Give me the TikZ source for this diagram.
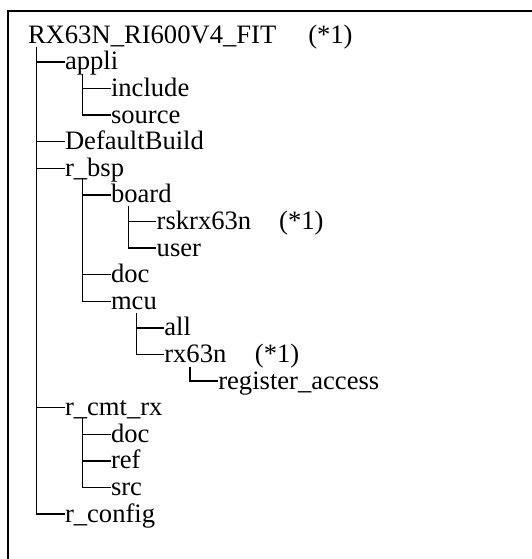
\documentclass[tikz,border=0pt]{standalone}
\usepackage{fontspec}
\setmainfont{Liberation Serif}
\begin{document}
\begin{tikzpicture}[x=1pt,y=-1pt,
  item/.style={anchor=base west,inner sep=0pt,outer sep=0pt,font=\fontsize{26.6}{26.6}\selectfont},
  tree/.style={draw=black,line width=1.3pt},
  frame/.style={draw=black,line width=1.6pt}]
\useasboundingbox (0,0) rectangle (532,559);
\draw[frame] (532,11) -- (8,11) -- (8,559);
% nodes
\node[item] (root) at (28,43.3) {RX63N\_RI600V4\_FIT\hspace{32pt}(*1)};
\node[item] (appli) at (65,69.9) {appli};
\node[item] (include) at (111,96.5) {include};
\node[item] (source) at (111,123.1) {source};
\node[item] (defb) at (65,149.7) {DefaultBuild};
\node[item] (rbsp) at (65,176.3) {r\_bsp};
\node[item] (board) at (111,202.9) {board};
\node[item] (rsk) at (156.7,229.5) {rskrx63n\hspace{28pt}(*1)};
\node[item] (user) at (156.7,256.1) {user};
\node[item] (bdoc) at (111,282.7) {doc};
\node[item] (mcu) at (111,309.3) {mcu};
\node[item] (all) at (164.3,335.9) {all};
\node[item] (rx) at (164.3,362.5) {rx63n\hspace{28.6pt}(*1)};
\node[item] (reg) at (218.3,389.1) {register\_access};
\node[item] (cmt) at (65,415.7) {r\_cmt\_rx};
\node[item] (cdoc) at (111,442.3) {doc};
\node[item] (ref) at (111,468.9) {ref};
\node[item] (src) at (111,495.5) {src};
\node[item] (rcfg) at (65,522.1) {r\_config};
% connectors
\foreach \c in {appli,defb,rbsp,cmt,rcfg}
  \draw[tree] ([xshift=8.7pt,yshift=-3.4pt]root.base west) |- ([xshift=-0.5pt,yshift=8pt]\c.base west);
\foreach \c in {include,source}
  \draw[tree] ([xshift=17.3pt,yshift=-4pt]appli.base west) |- ([xshift=-0.5pt,yshift=8pt]\c.base west);
\foreach \c in {board,bdoc,mcu}
  \draw[tree] ([xshift=17.3pt,yshift=-2pt]rbsp.base west) |- ([xshift=-0.5pt,yshift=8pt]\c.base west);
\foreach \c in {rsk,user}
  \draw[tree] ([xshift=17.3pt,yshift=-3.5pt]board.base west) |- ([xshift=-0.5pt,yshift=8pt]\c.base west);
\foreach \c in {all,rx}
  \draw[tree] ([xshift=25.7pt,yshift=-4pt]mcu.base west) |- ([xshift=-0.5pt,yshift=8pt]\c.base west);
\draw[tree] ([xshift=25.7pt,yshift=-4pt]rx.base west) |- ([xshift=-0.5pt,yshift=8pt]reg.base west);
\foreach \c in {cdoc,ref,src}
  \draw[tree] ([xshift=17.3pt,yshift=-2pt]cmt.base west) |- ([xshift=-0.5pt,yshift=8pt]\c.base west);
\end{tikzpicture}
\end{document}
